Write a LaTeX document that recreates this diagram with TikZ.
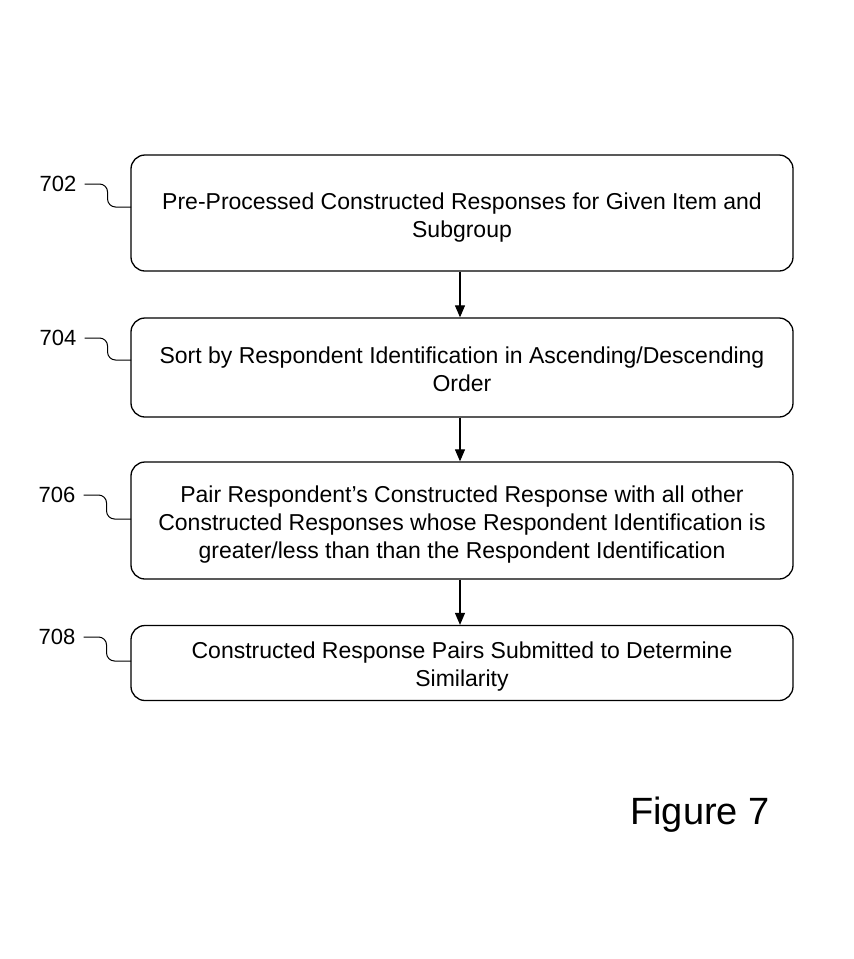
\documentclass[tikz,border=0pt]{standalone}
\usepackage{fontspec}
\setmainfont{Liberation Sans}
\usetikzlibrary{arrows.meta}
\begin{document}
\begin{tikzpicture}[x=1pt,y=-1pt,
  stepbox/.style={draw,line width=1.3pt,rounded corners=14pt,minimum width=662pt,inner sep=0pt},
  boxtext/.style={align=center,inner sep=0pt,font=\fontsize{23}{28}\selectfont},
  reflabel/.style={font=\fontsize{22}{24}\selectfont,inner sep=0pt},
  flow/.style={line width=1.1pt,-{Triangle[length=12pt,width=10pt]}},
  lead/.style={line width=1pt,rounded corners=8pt}]
\useasboundingbox[fill=white] (0,0) rectangle (854,959);
\node[stepbox,minimum height=116pt] (b702) at (462,213) {};
\node[stepbox,minimum height=99pt] (b704) at (462,367.5) {};
\node[stepbox,minimum height=117pt] (b706) at (462,520.5) {};
\node[stepbox,minimum height=75pt] (b708) at (462,663) {};
\node[boxtext] (t702) at ([yshift=-4.5pt]b702.center) {Pre-Processed Constructed Responses for Given Item and\\Subgroup};
\node[boxtext] (t704) at ([yshift=-1.5pt]b704.center) {Sort by Respondent Identification in Ascending/Descending\\Order};
\node[boxtext] (t706) at ([yshift=-4pt]b706.center) {Pair Respondent's Constructed Response with all other\\Constructed Responses whose Respondent Identification is\\greater/less than than the Respondent Identification};
\node[boxtext] (t708) at ([yshift=-4pt]b708.center) {Constructed Response Pairs Submitted to Determine\\Similarity};
\node[reflabel] (l702) at (58,184) {702};
\node[reflabel] (l704) at (58,338) {704};
\node[reflabel] (l706) at (57,495) {706};
\node[reflabel] (l708) at (57,637) {708};
\coordinate (c702) at (131,207);
\coordinate (c704) at (131,360);
\coordinate (c706) at (131,519);
\coordinate (c708) at (131,661);
\draw[lead] (l702.east) ++(8,0) -- ++(23,0) -- ++(0,23) -- (c702);
\draw[lead] (l704.east) ++(8,0) -- ++(23,0) -- ++(0,22) -- (c704);
\draw[lead] (l706.east) ++(8,0) -- ++(23,0) -- ++(0,24) -- (c706);
\draw[lead] (l708.east) ++(8,0) -- ++(23,0) -- ++(0,24) -- (c708);
\draw[flow] (b702.south -| 460,0) -- (b704.north -| 460,0);
\draw[flow] (b704.south -| 460,0) -- (b706.north -| 460,0);
\draw[flow] (b706.south -| 460,0) -- (b708.north -| 460,0);
\node[font=\fontsize{38}{44}\selectfont,inner sep=0pt] (fig) at (700,815) {Figure 7};
\end{tikzpicture}
\end{document}
